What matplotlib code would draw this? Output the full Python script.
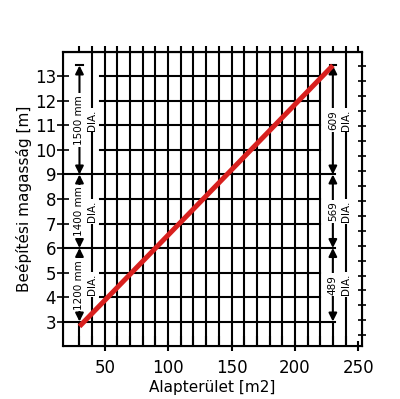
import numpy as np
import matplotlib.pyplot as plt

# data
area = [30, 230]              # m2
height = [2.8, 13.45]         # m
xticks = [50, 100, 150, 200, 250]
yticks = list(range(3, 14))
levels = [3, 6, 9, 13.45]     # dimension breaks (m)
left_labels = ['1200 mm', '1400 mm', '1500 mm']
right_labels = ['489', '569', '609']

fig = plt.figure(figsize=(4, 3.99), dpi=100)
ax = fig.add_axes([0.1575, 0.1328, 0.7475, 0.7369])
ax.set_xlim(17, 253)
ax.set_ylim(2, 14)

lw = 1.5
# grid
for x in range(50, 230, 10):
    ax.plot([x, x], [2, 14], color='k', lw=lw, zorder=1)
for y in yticks:
    if y in (3, 6, 9):
        ax.plot([17, 232], [y, y], color='k', lw=lw, zorder=1)
    else:
        ax.plot([46, 220], [y, y], color='k', lw=lw, zorder=1)
for x in (40, 240):
    ax.plot([x, x], [2, 14], color='k', lw=lw, zorder=1)

# dimension arrows
for x, labels in ((30, left_labels), (230, right_labels)):
    ax.plot([x - 2.5, x + 2.5], [levels[-1], levels[-1]], color='k', lw=lw)
    ax.plot([x, x], [2, 3], color='k', lw=lw)
    for i in range(3):
        lo, hi = levels[i], levels[i + 1]
        ax.annotate('', xy=(x, hi), xytext=(x, lo),
                    arrowprops=dict(arrowstyle='<|-|>', color='k', lw=lw,
                                    mutation_scale=12, shrinkA=0, shrinkB=0))
        mid = (lo + hi) / 2
        ax.text(x, mid, labels[i], rotation=90, ha='center', va='center',
                fontsize=7.5, zorder=3,
                bbox=dict(facecolor='white', edgecolor='none', pad=1.2))
        ax.text(x + 10, mid, 'DIA.', rotation=90, ha='center', va='center',
                fontsize=7.5, zorder=3,
                bbox=dict(facecolor='white', edgecolor='none', pad=1.2))

ax.plot(area, height, color='#d8201e', lw=3.6, solid_capstyle='butt', zorder=4)

for s in ax.spines.values():
    s.set_linewidth(lw)

ax.set_xticks(xticks)
ax.set_xticks(range(30, 251, 10), minor=True)
ax.set_yticks(yticks)
ax.tick_params(axis='x', which='major', direction='inout', length=7, width=lw,
               labelsize=12, pad=6, top=False)
ax.tick_params(axis='x', which='minor', direction='in', length=7, width=lw)
ax.tick_params(axis='y', which='major', direction='inout', length=8, width=1.2,
               labelsize=12, pad=1)

top = ax.secondary_xaxis('top')
top.set_xticks(range(30, 251, 10))
top.tick_params(direction='out', length=4, width=lw, labeltop=False)
top.spines['top'].set_linewidth(lw)

ax2 = ax.twinx()
ax2.set_ylim(2 / 0.3048, 14 / 0.3048)
ax2.set_yticks(range(8, 46, 2))
ax2.tick_params(direction='inout', length=6, width=1.2, labelright=False)

ax.set_xlabel('Alapterület [m2]', fontsize=11, labelpad=2)
ax.set_ylabel('Beépítési magasság [m]', fontsize=11, labelpad=2)

fig.savefig('out.png', dpi=100)
